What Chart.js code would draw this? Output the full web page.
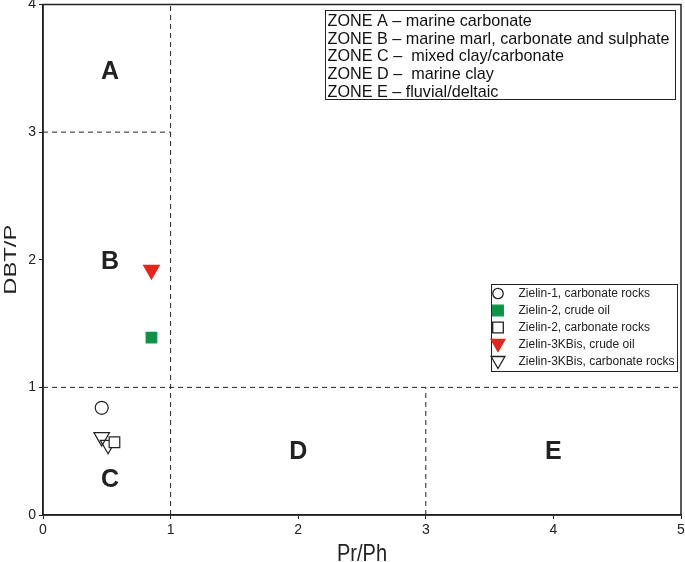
<!DOCTYPE html>
<html><head><meta charset="utf-8">
<script src="https://cdn.jsdelivr.net/npm/chart.js@4/dist/chart.umd.min.js"></script>
<style>html,body{margin:0;padding:0;background:#fff}#wrap{width:685px;height:562px;position:relative}</style>
</head><body><div id="wrap"><canvas id="c" width="685" height="562"></canvas></div>
<script>
// Data
const seriesNames = ["Zielin-1, carbonate rocks","Zielin-2, crude oil","Zielin-2, carbonate rocks","Zielin-3KBis, crude oil","Zielin-3KBis, carbonate rocks"];
const zielin1Rocks = [{x:0.46,y:0.84}];
const zielin2Oil = [{x:0.85,y:1.39}];
const zielin2Rocks = [{x:0.56,y:0.57}];
const zielin3Oil = [{x:0.85,y:1.92}];
const zielin3Rocks = [{x:0.46,y:0.61},{x:0.51,y:0.55}];
const boundaryX1 = [{x:1,y:0},{x:1,y:4}];
const boundaryY3 = [{x:0,y:3},{x:1,y:3}];
const boundaryY1 = [{x:0,y:1},{x:5,y:1}];
const boundaryX3 = [{x:3,y:0},{x:3,y:1}];
const zoneLabels = [{t:"A",x:0.525,y:3.47},{t:"B",x:0.525,y:1.98},{t:"C",x:0.525,y:0.27},{t:"D",x:2.0,y:0.49},{t:"E",x:4.0,y:0.49}];
const zoneLegend = ["ZONE A \u2013 marine carbonate","ZONE B \u2013 marine marl, carbonate and sulphate","ZONE C \u2013  mixed clay/carbonate","ZONE D \u2013  marine clay","ZONE E \u2013 fluvial/deltaic"];
const xTicks = [0,1,2,3,4,5];
const yTicks = [0,1,2,3,4];
const xTitle = "Pr/Ph";
const yTitle = "DBT/P";

const FONT = "'Liberation Sans', Arial, sans-serif";
const green = "#0e9346", red = "#e3261c";

const pointSets = [
  {data:zielin1Rocks, pointStyle:'circle', radius:6.5, rot:0, bg:'#fff', bc:'#222', lr:5.2},
  {data:zielin2Oil, pointStyle:'rect', radius:7.5, rot:0, bg:green, bc:green, lr:7.5},
  {data:zielin2Rocks, pointStyle:'rect', radius:7.5, rot:0, bg:'#fff', bc:'#222', lr:7.5},
  {data:zielin3Oil, pointStyle:'triangle', radius:9, rot:180, bg:red, bc:red, lr:8},
  {data:zielin3Rocks, pointStyle:'triangle', radius:9, rot:180, bg:'rgba(255,255,255,0)', bc:'#222', lr:8}
];

function lineDs(d){return {type:'line',data:d,borderColor:'#222',borderWidth:1,borderDash:[5,4],pointRadius:0,showLine:true,fill:false,order:10};}

const datasets = [lineDs(boundaryX1),lineDs(boundaryY3),lineDs(boundaryY1),lineDs(boundaryX3)];
pointSets.forEach((p,i)=>datasets.push({type:'scatter',label:seriesNames[i],data:p.data,pointStyle:p.pointStyle,pointRadius:p.radius,pointRotation:p.rot,backgroundColor:p.bg,borderColor:p.bc,borderWidth:1.2,order:1,clip:false}));

const zeroPad = ()=>({left:0,top:0,right:0,bottom:0});
const overlay = {
  id:'overlay',
  beforeLayout(chart){
    Object.values(chart.scales).forEach(s=>{s.getPadding=zeroPad;});
  },
  beforeDatasetsDraw(chart){
    const {ctx,chartArea:a,scales:{x,y}} = chart;
    ctx.save();
    ctx.fillStyle='#222';
    ctx.font = "bold 25px "+FONT;
    ctx.textAlign='center'; ctx.textBaseline='middle';
    zoneLabels.forEach(z=>ctx.fillText(z.t,x.getPixelForValue(z.x),y.getPixelForValue(z.y)));
    ctx.restore();
  },
  afterDraw(chart){
    const {ctx,chartArea:a} = chart;
    ctx.save();
    ctx.strokeStyle='#222'; ctx.lineWidth=1.5;
    ctx.strokeRect(a.left,a.top,a.right-a.left,a.bottom-a.top);
    // axis titles (vertically stretched like the reference)
    ctx.fillStyle='#222';
    ctx.save();
    ctx.translate((a.left+a.right)/2, 561);
    ctx.scale(1,1.2);
    ctx.font="20px "+FONT; ctx.textAlign='center'; ctx.textBaseline='alphabetic';
    ctx.fillText(xTitle,0,0);
    ctx.restore();
    ctx.save();
    ctx.translate(15.5,(a.top+a.bottom)/2);
    ctx.scale(1,1.4);
    ctx.rotate(-Math.PI/2);
    ctx.font="17px "+FONT; ctx.textAlign='center'; ctx.textBaseline='alphabetic';
    ctx.fillText(yTitle,0,0);
    ctx.restore();
    // zone legend box
    ctx.lineWidth=1;
    ctx.fillStyle='#fff';
    const bx=325.5,by=10.5,bw=350,bh=89;
    ctx.fillRect(bx,by,bw,bh);ctx.strokeRect(bx,by,bw,bh);
    ctx.fillStyle='#111';ctx.font="16.2px "+FONT;ctx.textAlign='left';ctx.textBaseline='middle';
    zoneLegend.forEach((t,i)=>ctx.fillText(t,bx+2,by+11+i*17.7));
    // series legend
    const lx=491.5,ly=284.5,lw=186,lh=87;
    ctx.fillStyle='#fff';ctx.fillRect(lx,ly,lw,lh);ctx.strokeRect(lx,ly,lw,lh);
    ctx.font="12px "+FONT;
    pointSets.forEach((p,i)=>{
      const cy=ly+9+i*17;
      const st={pointStyle:p.pointStyle,rotation:p.rot,radius:p.lr,borderWidth:1.3};
      ctx.fillStyle=p.bg==='rgba(255,255,255,0)'?'#fff':p.bg;ctx.strokeStyle=p.bc;ctx.lineWidth=1.3;
      Chart.helpers.drawPoint(ctx,st,lx+6.5,cy+(p.pointStyle==='triangle'?-1:0));
      ctx.fillStyle='#222';
      ctx.fillText(seriesNames[i],lx+27,cy+0.5);
    });
    ctx.restore();
  }
};

new Chart(document.getElementById('c'),{
  data:{datasets},
  options:{
    responsive:false,animation:false,
    layout:{autoPadding:false,padding:{left:0,right:4,top:4.5,bottom:0}},
    plugins:{legend:{display:false},tooltip:{enabled:false}},
    scales:{
      x:{type:'linear',min:0,max:5,
        afterBuildTicks(s){s.ticks=xTicks.map(v=>({value:v}));},
        ticks:{color:'#222',font:{family:FONT,size:14},padding:3,maxRotation:0},
        grid:{drawOnChartArea:false,tickLength:4,color:'#222'},
        border:{display:true,color:'#222',width:1.5},
        title:{display:false},
        afterFit(s){s.height=47;s.paddingLeft=0;s.paddingRight=0;}
      },
      y:{type:'linear',min:0,max:4,
        afterBuildTicks(s){s.ticks=yTicks.map(v=>({value:v}));},
        ticks:{color:'#222',font:{family:FONT,size:14},padding:3},
        grid:{drawOnChartArea:false,tickLength:4,color:'#222'},
        border:{display:true,color:'#222',width:1.5},
        title:{display:false},
        afterFit(s){s.width=43;s.paddingTop=0;s.paddingBottom=0;}
      }
    }
  },
  plugins:[overlay]
});
</script></body></html>
